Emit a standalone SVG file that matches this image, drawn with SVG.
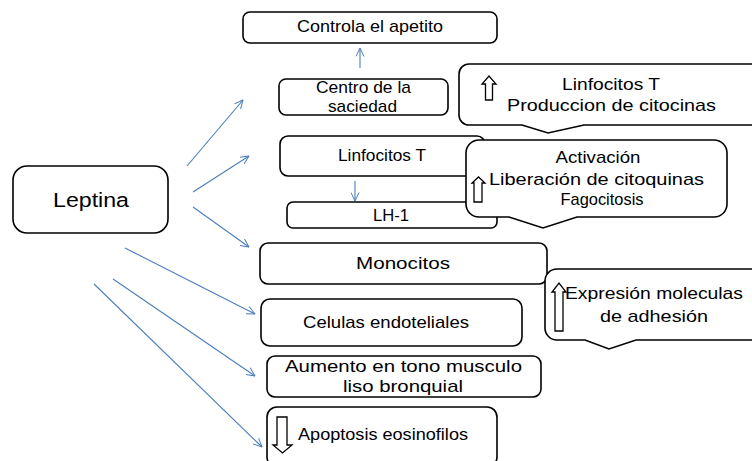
<svg xmlns="http://www.w3.org/2000/svg" width="752" height="461" viewBox="0 0 752 461">
<defs>
<marker id="ah" viewBox="0 0 10 10" refX="9.5" refY="5" markerWidth="9" markerHeight="9" markerUnits="userSpaceOnUse" orient="auto">
<path d="M0,0.5 L9.5,5 L0,9.5" fill="none" stroke="#4a7ebb" stroke-width="1.1"/>
</marker>
<style>
.box{fill:#fff;stroke:#000;stroke-width:1.6}
.blk{fill:#fff;stroke:#000;stroke-width:1.3;stroke-linejoin:miter}
.t{font-family:"Liberation Sans",Arial,sans-serif;font-size:17px;fill:#000;text-anchor:middle}
.s{font-size:16px}
.big{font-size:20.5px}
.c line{stroke:#4a7ebb;stroke-width:1.1;marker-end:url(#ah)}
</style>
</defs>
<rect width="752" height="461" fill="#fff"/>

<g class="c" id="connectors">
<line x1="187" y1="166" x2="243" y2="100"/>
<line x1="193" y1="192" x2="249" y2="156"/>
<line x1="193" y1="207" x2="249" y2="247"/>
<line x1="125" y1="248" x2="255" y2="314"/>
<line x1="113" y1="279" x2="255" y2="376"/>
<line x1="94" y1="284" x2="262" y2="447"/>
<line x1="360" y1="68" x2="360" y2="48"/>
<line x1="355" y1="181" x2="355" y2="201"/>
</g>

<g id="leptina">
<rect class="box" x="13" y="166" width="155" height="67" rx="14"/>
<text class="t big" x="91" y="207" textLength="76" lengthAdjust="spacingAndGlyphs">Leptina</text>
</g>

<g id="controla">
<rect class="box" x="243" y="12" width="254" height="31" rx="7"/>
<text class="t" x="370" y="32" textLength="146" lengthAdjust="spacingAndGlyphs">Controla el apetito</text>
</g>

<g id="centro">
<rect class="box" x="279" y="79" width="169" height="36" rx="7"/>
<text class="t" x="363.5" y="93" textLength="95" lengthAdjust="spacingAndGlyphs">Centro de la</text>
<text class="t" x="362.5" y="112" textLength="69" lengthAdjust="spacingAndGlyphs">saciedad</text>
</g>

<g id="linfocitos">
<rect class="box" x="280" y="136" width="205" height="40" rx="8"/>
<text class="t s" x="382" y="161" textLength="88" lengthAdjust="spacingAndGlyphs">Linfocitos T</text>
</g>

<g id="lh1">
<rect class="box" x="287" y="202" width="210" height="26" rx="6"/>
<text class="t s" x="391" y="221" textLength="36" lengthAdjust="spacingAndGlyphs">LH-1</text>
</g>

<g id="monocitos">
<rect class="box" x="260" y="243" width="287" height="41" rx="8"/>
<text class="t" x="403" y="269" textLength="94" lengthAdjust="spacingAndGlyphs">Monocitos</text>
</g>

<g id="endoteliales">
<rect class="box" x="261" y="299" width="261" height="47" rx="9"/>
<text class="t" x="386" y="328" textLength="166" lengthAdjust="spacingAndGlyphs">Celulas endoteliales</text>
</g>

<g id="aumento">
<rect class="box" x="267" y="356" width="274" height="41" rx="8"/>
<text class="t" x="403.5" y="372" textLength="237" lengthAdjust="spacingAndGlyphs">Aumento en tono musculo</text>
<text class="t" x="403" y="392" textLength="120" lengthAdjust="spacingAndGlyphs">liso bronquial</text>
</g>

<g id="apoptosis">
<rect class="box" x="267" y="407" width="230" height="60" rx="10"/>
<path class="blk" d="M277,417 H287 V445 H292 L282.5,453 L273,445 H277 Z"/>
<text class="t" x="383" y="440" textLength="170" lengthAdjust="spacingAndGlyphs">Apoptosis eosinofilos</text>
</g>

<g id="callout-linfocitos">
<path class="box" d="M469,64 H775 V125 H584 L548,133 L522,125 H469 A10,10 0 0 1 459,115 V74 A10,10 0 0 1 469,64 Z"/>
<path class="blk" d="M485.5,100 V84 H482 L489,76 L496,84 H492.5 V100 Z"/>
<text class="t" x="611" y="89.5" textLength="98" lengthAdjust="spacingAndGlyphs">Linfocitos T</text>
<text class="t" x="611.5" y="110.5" textLength="209" lengthAdjust="spacingAndGlyphs">Produccion de citocinas</text>
</g>

<g id="callout-activacion">
<path class="box" d="M479,140 H714 A13,13 0 0 1 727,153 V204 A13,13 0 0 1 714,217 H577 L543,228 L509,217 H479 A13,13 0 0 1 466,204 V153 A13,13 0 0 1 479,140 Z"/>
<path class="blk" d="M474,202 V183 H472 L478.5,177 L485,183 H482 V202 Z"/>
<text class="t" x="598" y="163" textLength="85" lengthAdjust="spacingAndGlyphs">Activación</text>
<text class="t" x="596.5" y="185" textLength="215" lengthAdjust="spacingAndGlyphs">Liberación de citoquinas</text>
<text class="t" x="602" y="205" textLength="83" lengthAdjust="spacingAndGlyphs">Fagocitosis</text>
</g>

<g id="callout-expresion">
<path class="box" d="M557,269 H775 V340 H636 L609,349 L585,340 H557 A12,12 0 0 1 545,328 V281 A12,12 0 0 1 557,269 Z"/>
<path class="blk" d="M555,331 V292 H552 L559,283 L566,292 H563 V331 Z"/>
<text class="t" x="654" y="299" textLength="178" lengthAdjust="spacingAndGlyphs">Expresión moleculas</text>
<text class="t" x="654" y="322" textLength="108" lengthAdjust="spacingAndGlyphs">de adhesión</text>
</g>
</svg>
